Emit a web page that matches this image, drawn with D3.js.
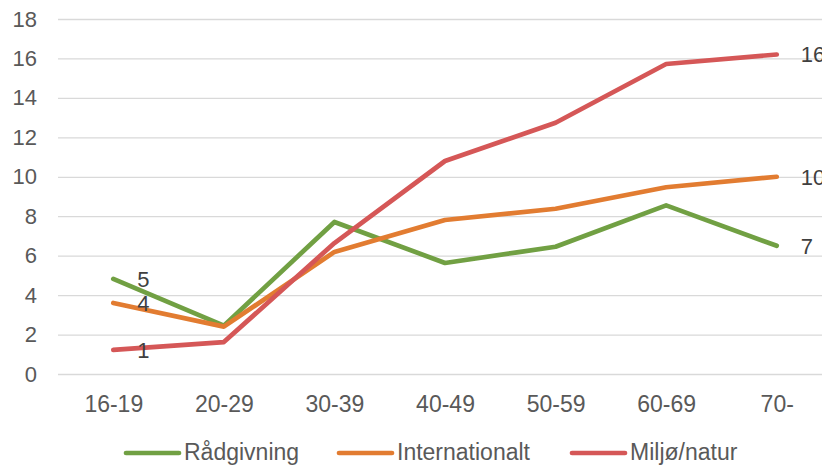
<!DOCTYPE html>
<html>
<head>
<meta charset="utf-8">
<script src="https://cdn.jsdelivr.net/npm/d3@7"></script>
<style>
  html, body { margin: 0; padding: 0; background: #fff; }
  svg { display: block; font-family: Arial, "Liberation Sans", sans-serif; }
</style>
</head>
<body>
<svg id="chart" width="822" height="467"></svg>
<script>
const categories = ["16-19", "20-29", "30-39", "40-49", "50-59", "60-69", "70-"];
const seriesNames = ["Rådgivning", "Internationalt", "Miljø/natur"];
const radgivning = [4.82, 2.45, 7.71, 5.63, 6.45, 8.55, 6.5];
const internationalt = [3.6, 2.4, 6.19, 7.81, 8.38, 9.47, 10.0];
const miljo = [1.22, 1.62, 6.64, 10.8, 12.74, 15.72, 16.2];
const yTicks = [0, 2, 4, 6, 8, 10, 12, 14, 16, 18];
const colors = ["#71A043", "#E27C31", "#D55757"];

const series = [
  { name: seriesNames[0], values: radgivning, color: colors[0] },
  { name: seriesNames[1], values: internationalt, color: colors[1] },
  { name: seriesNames[2], values: miljo, color: colors[2] }
];

const svg = d3.select("#chart");
const plotLeft = 58, plotRight = 832, plotTop = 19, plotBottom = 374;

const x = d3.scalePoint().domain(categories).range([plotLeft, plotRight]).padding(0.5);
const y = d3.scaleLinear().domain([0, 18]).range([plotBottom, plotTop]);

// gridlines + y labels
const yAxis = d3.axisLeft(y).tickValues(yTicks).tickSize(-(plotRight - plotLeft)).tickPadding(21);
const gy = svg.append("g").attr("transform", `translate(${plotLeft},0)`).call(yAxis);
gy.select(".domain").remove();
gy.selectAll(".tick line").attr("stroke", "#D9D9D9").attr("stroke-width", 1.3);
gy.selectAll(".tick text").attr("fill", "#595959").attr("font-size", 22)
  .attr("font-family", "Arial, 'Liberation Sans', sans-serif");

// x labels
const xAxis = d3.axisBottom(x).tickSize(0).tickPadding(0);
const gx = svg.append("g").attr("transform", `translate(0,${plotBottom})`).call(xAxis);
gx.select(".domain").remove();
gx.selectAll(".tick text").attr("fill", "#595959").attr("font-size", 23)
  .attr("dy", null).attr("y", 38)
  .attr("font-family", "Arial, 'Liberation Sans', sans-serif");

// lines
const line = d3.line().x((d, i) => x(categories[i])).y(d => y(d));
svg.append("g").selectAll("path").data(series).join("path")
  .attr("d", d => line(d.values))
  .attr("fill", "none")
  .attr("stroke", d => d.color)
  .attr("stroke-width", 4.7)
  .attr("stroke-linecap", "round")
  .attr("stroke-linejoin", "round");

// data labels (first and last)
const lbl = svg.append("g").attr("font-size", 22).attr("fill", "#404040");
series.forEach(s => {
  [0, categories.length - 1].forEach(i => {
    lbl.append("text")
      .attr("x", x(categories[i]) + 24)
      .attr("y", y(s.values[i]))
      .attr("dy", "0.36em")
      .text(Math.round(s.values[i]));
  });
});

// legend
const legendX = [126, 339, 572];
const lg = svg.append("g");
series.forEach((s, i) => {
  const g = lg.append("g").attr("transform", `translate(${legendX[i]},453)`);
  g.append("line").attr("x1", 0).attr("x2", 53).attr("y1", 0).attr("y2", 0)
    .attr("stroke", s.color).attr("stroke-width", 4.7).attr("stroke-linecap", "round");
  g.append("text").attr("x", 58).attr("y", 7).attr("font-size", 23)
    .attr("fill", "#595959").text(s.name);
});
</script>
</body>
</html>
